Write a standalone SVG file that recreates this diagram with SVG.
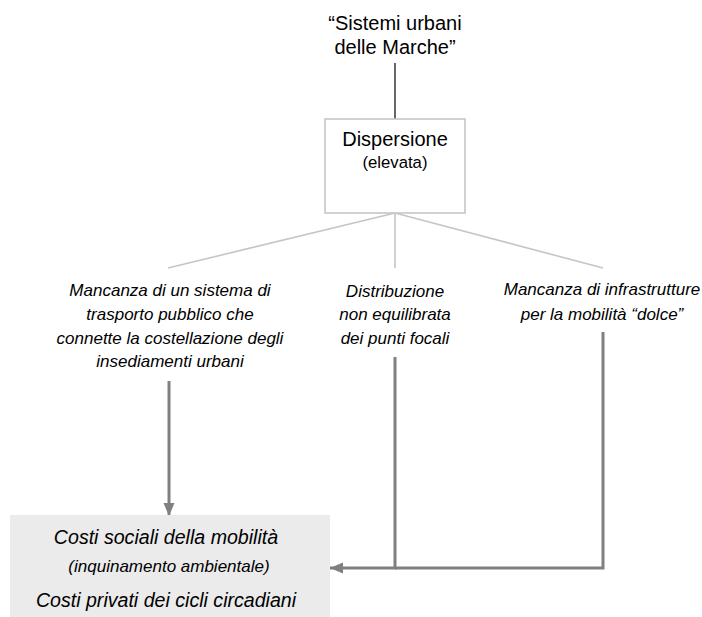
<svg xmlns="http://www.w3.org/2000/svg" width="702" height="617" viewBox="0 0 702 617">
<style>
  text { font-family: "Liberation Sans", Arial, sans-serif; fill: #000; text-anchor: middle; }
  .it { font-style: italic; font-size: 17px; }
  .big { font-size: 19.6px; }
  .title { font-size: 20px; }
  .light { stroke: #c6c6c6; stroke-width: 1.6; fill: none; }
  .dark { stroke: #808080; stroke-width: 3; fill: none; }
</style>
<defs>
  <marker id="arr" markerUnits="userSpaceOnUse" markerWidth="14" markerHeight="12" refX="13" refY="6" orient="auto">
    <path d="M0,0.5 L13,6 L0,11.5 z" fill="#808080"/>
  </marker>
</defs>

<g id="connectors">
  <line x1="395" y1="63" x2="395" y2="119" stroke="#000" stroke-width="1.2"/>
  <line class="light" x1="395" y1="213" x2="168" y2="268"/>
  <line class="light" x1="395" y1="213" x2="395" y2="268"/>
  <line class="light" x1="395" y1="213" x2="603" y2="268"/>
  <line class="dark" x1="169" y1="381" x2="169" y2="516" marker-end="url(#arr)"/>
  <polyline class="dark" points="603,332 603,568 395,568"/>
  <polyline class="dark" points="395,357 395,568 330,568" marker-end="url(#arr)"/>
</g>

<g id="title">
  <text class="title" x="395" y="30">“Sistemi urbani</text>
  <text class="title" x="395" y="54">delle Marche”</text>
</g>

<g id="dispersione">
  <rect x="325" y="119" width="140" height="94" fill="#fff" stroke="#c6c6c6" stroke-width="1.6"/>
  <text class="title" x="395" y="146">Dispersione</text>
  <text x="395" y="168" style="font-size:16.7px">(elevata)</text>
</g>

<g id="cause-trasporto">
  <text class="it" x="170" y="296">Mancanza di un sistema di</text>
  <text class="it" x="170" y="320">trasporto pubblico che</text>
  <text class="it" x="170" y="344">connette la costellazione degli</text>
  <text class="it" x="170" y="367">insediamenti urbani</text>
</g>

<g id="cause-distribuzione">
  <text class="it" x="395" y="297">Distribuzione</text>
  <text class="it" x="395" y="320">non equilibrata</text>
  <text class="it" x="395" y="344">dei punti focali</text>
</g>

<g id="cause-infrastrutture">
  <text class="it" x="602" y="295">Mancanza di infrastrutture</text>
  <text class="it" x="602" y="320">per la mobilità “dolce”</text>
</g>

<g id="costi">
  <rect x="10" y="515" width="320" height="102" fill="#ebebeb"/>
  <text class="it big" x="166" y="544">Costi sociali della mobilità</text>
  <text class="it" x="169" y="572">(inquinamento ambientale)</text>
  <text class="it big" x="166" y="607">Costi privati dei cicli circadiani</text>
</g>
</svg>
